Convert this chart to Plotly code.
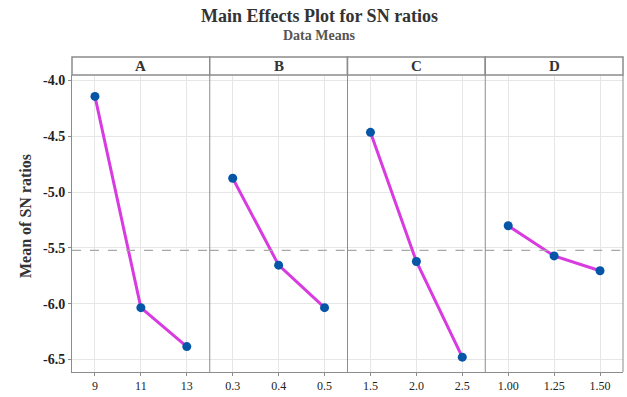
import plotly.graph_objects as go
from plotly.subplots import make_subplots

# Factors and their levels
factors = ["A", "B", "C", "D"]
level_labels = [
    ["9", "11", "13"],
    ["0.3", "0.4", "0.5"],
    ["1.5", "2.0", "2.5"],
    ["1.00", "1.25", "1.50"],
]

# Mean SN ratio at each level
sn_a = [-4.142, -6.036, -6.385]
sn_b = [-4.876, -5.655, -6.036]
sn_c = [-4.464, -5.622, -6.480]
sn_d = [-5.302, -5.572, -5.705]
sn_means = [sn_a, sn_b, sn_c, sn_d]

y_ticks = [-4.0, -4.5, -5.0, -5.5, -6.0, -6.5]

grand_mean = sum(sum(v) for v in sn_means) / sum(len(v) for v in sn_means)

SERIF = "Times New Roman, Liberation Serif, Times, serif"
LINE_COLOR = "#d83be0"
MARKER_COLOR = "#0656a8"
BORDER = "#8c8c8c"
GRID = "#e6e6e6"

W, H = 627, 397
ml, mr, mt, mb = 72, 4, 75, 23
plot_w = W - ml - mr
plot_h = H - mt - mb


def px_x(x):
    return (x - ml) / plot_w


def px_y(y):
    return 1 - (y - mt) / plot_h


fig = make_subplots(rows=1, cols=4, shared_yaxes=True, horizontal_spacing=0)

for i, (labels, vals) in enumerate(zip(level_labels, sn_means)):
    col = i + 1
    idx = list(range(len(labels)))
    fig.add_trace(
        go.Scatter(
            x=idx, y=vals, mode="lines+markers",
            line=dict(color=LINE_COLOR, width=3),
            marker=dict(color=MARKER_COLOR, size=9),
            showlegend=False, hoverinfo="y",
        ),
        row=1, col=col,
    )
    fig.update_xaxes(
        range=[-0.5, len(labels) - 0.5],
        tickmode="array", tickvals=idx, ticktext=labels,
        showgrid=True, gridcolor=GRID, gridwidth=1,
        showline=True, linecolor=BORDER, linewidth=1, mirror=False,
        ticks="outside", ticklen=3, tickcolor=BORDER,
        tickfont=dict(family=SERIF, size=12, color="#222"),
        zeroline=False,
        row=1, col=col,
    )
    fig.update_yaxes(
        range=[-6.613, -3.95],
        tickmode="array", tickvals=y_ticks,
        ticktext=[f"{t:.1f}" for t in y_ticks],
        showgrid=True, gridcolor=GRID, gridwidth=1,
        showline=(col == 1), linecolor=BORDER, linewidth=1, mirror=False,
        zeroline=False,
        showticklabels=(col == 1),
        ticks="outside" if col == 1 else "", ticklen=3, tickcolor=BORDER,
        tickfont=dict(family=SERIF, size=14, color="#222", weight="bold"),
        row=1, col=col,
    )
    # Overall mean reference line
    fig.add_hline(
        y=grand_mean, line=dict(color="#a8a8a8", width=1.3, dash="dash"),
        row=1, col=col,
    )

# Panel dividers and right border
for i in range(1, 5):
    xa = fig.layout["xaxis" if i == 1 else f"xaxis{i}"]
    fig.add_shape(
        type="line", xref="paper", yref="paper",
        x0=xa.domain[1], x1=xa.domain[1], y0=0, y1=1,
        line=dict(color=BORDER, width=1),
    )

# Facet header strips
strip_top = 1 + 18 / plot_h
for i, f in enumerate(factors):
    xa = fig.layout["xaxis" if i == 0 else f"xaxis{i + 1}"]
    x0, x1 = xa.domain
    fig.add_shape(
        type="rect", xref="paper", yref="paper",
        x0=x0, x1=x1, y0=1, y1=strip_top,
        line=dict(color=BORDER, width=1.5), fillcolor="white", layer="above",
    )
    fig.add_annotation(
        x=(x0 + x1) / 2, y=(1 + strip_top) / 2, xref="paper", yref="paper",
        text=f"<b>{f}</b>", showarrow=False,
        font=dict(family=SERIF, size=15, color="#333"),
        xanchor="center", yanchor="middle",
    )

# Titles
fig.add_annotation(
    x=px_x(319), y=px_y(16), xref="paper", yref="paper",
    xanchor="center", yanchor="middle", showarrow=False,
    text="<b>Main Effects Plot for SN ratios</b>",
    font=dict(family=SERIF, size=18, color="#333"),
)
fig.add_annotation(
    x=px_x(319), y=px_y(35), xref="paper", yref="paper",
    xanchor="center", yanchor="middle", showarrow=False,
    text="<b>Data Means</b>",
    font=dict(family=SERIF, size=14, color="#555"),
)

# Y-axis title
fig.add_annotation(
    x=px_x(25), y=px_y(217), xref="paper", yref="paper",
    xanchor="center", yanchor="middle", showarrow=False, textangle=-90,
    text="<b>Mean of SN ratios</b>",
    font=dict(family=SERIF, size=16, color="#333"),
)

fig.update_layout(
    width=W, height=H,
    margin=dict(l=ml, r=mr, t=mt, b=mb),
    paper_bgcolor="white", plot_bgcolor="white",
)

fig.write_html("out.html")
